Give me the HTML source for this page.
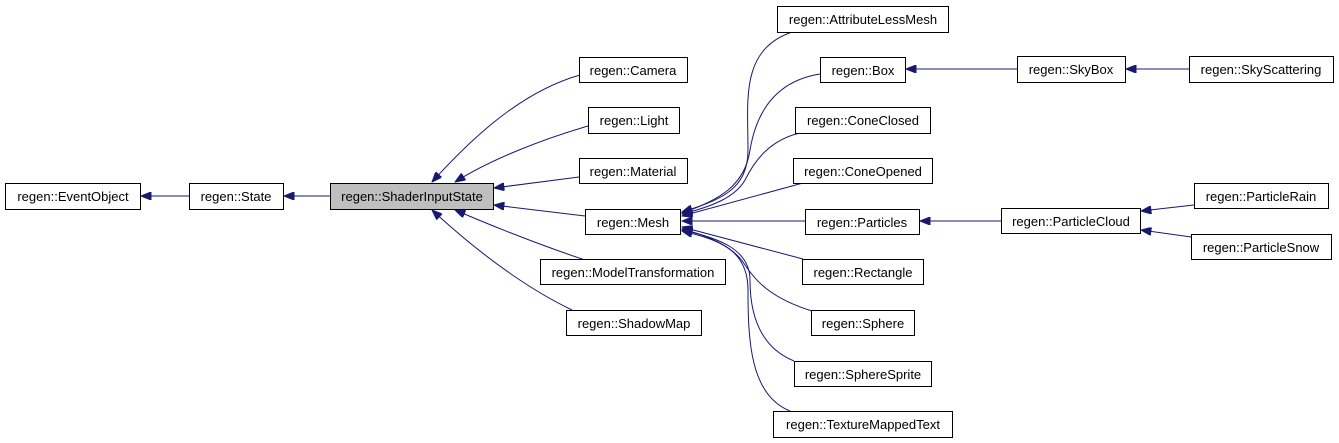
<!DOCTYPE html>
<html><head><meta charset="utf-8"><style>
html,body{margin:0;padding:0;background:#fff;}
svg{display:block;}
text{font-family:"Liberation Sans",sans-serif;font-size:13px;fill:#000;text-anchor:middle;}
rect{stroke:#000;stroke-width:1;fill:#fff;}
path{stroke:#191970;stroke-width:1;fill:none;}
</style></head><body>
<svg width="1339" height="443" viewBox="0 0 1339 443">
<defs>
<marker id="a" viewBox="0 0 10 8" refX="10" refY="4" markerWidth="11" markerHeight="8" markerUnits="userSpaceOnUse" orient="auto">
<polygon points="0,0 10,4 0,8" fill="#191970" stroke="#191970"/>
</marker>
</defs>
<path d="M189,196 L141,196" marker-end="url(#a)"/>
<path d="M330,196 L284,196" marker-end="url(#a)"/>
<path d="M580,75 C520,92 470,140 432,182" marker-end="url(#a)"/>
<path d="M588,126 C540,140 490,160 455,182" marker-end="url(#a)"/>
<path d="M579,177 L494,188" marker-end="url(#a)"/>
<path d="M585,216 L494,205" marker-end="url(#a)"/>
<path d="M585,260 C540,245 490,225 455,210" marker-end="url(#a)"/>
<path d="M572,310 C520,285 470,245 432,210" marker-end="url(#a)"/>
<path d="M792,32 C740,50 748,100 748,150 C748,190 720,200 682,212" marker-end="url(#a)"/>
<path d="M820,74 C770,82 755,120 750,150 C745,185 720,200 682,213" marker-end="url(#a)"/>
<path d="M800,133 C770,140 755,160 745,180 C735,198 710,207 682,214" marker-end="url(#a)"/>
<path d="M803,183 L682,216" marker-end="url(#a)"/>
<path d="M805,221 L682,221" marker-end="url(#a)"/>
<path d="M803,259 L682,227" marker-end="url(#a)"/>
<path d="M812,311 C770,298 755,280 745,265 C735,248 710,236 682,229" marker-end="url(#a)"/>
<path d="M794,361 C755,345 750,305 750,280 C750,250 720,238 682,230" marker-end="url(#a)"/>
<path d="M790,411 C750,395 748,340 748,290 C748,250 720,240 682,231" marker-end="url(#a)"/>
<path d="M1017,69 L906,69" marker-end="url(#a)"/>
<path d="M1189,69 L1126,69" marker-end="url(#a)"/>
<path d="M1001,221 L920,221" marker-end="url(#a)"/>
<path d="M1194,205 L1141,211" marker-end="url(#a)"/>
<path d="M1191,237 L1141,230" marker-end="url(#a)"/>
<rect x="5.5" y="183.5" width="135" height="26"/><text x="73" y="201">regen::EventObject</text>
<rect x="189.5" y="183.5" width="94" height="26"/><text x="236" y="201">regen::State</text>
<rect x="330.5" y="183.5" width="163" height="26" style="fill:#bfbfbf"/><text x="412" y="201">regen::ShaderInputState</text>
<rect x="579.5" y="57.5" width="108" height="25"/><text x="633" y="75">regen::Camera</text>
<rect x="588.5" y="107.5" width="91" height="26"/><text x="634" y="125">regen::Light</text>
<rect x="579.5" y="158.5" width="108" height="25"/><text x="633" y="176">regen::Material</text>
<rect x="585.5" y="209.5" width="95" height="25"/><text x="633" y="227">regen::Mesh</text>
<rect x="540.5" y="259.5" width="185" height="25"/><text x="633" y="277">regen::ModelTransformation</text>
<rect x="566.5" y="310.5" width="135" height="25"/><text x="634" y="328">regen::ShadowMap</text>
<rect x="777.5" y="6.5" width="171" height="26"/><text x="863" y="24">regen::AttributeLessMesh</text>
<rect x="820.5" y="57.5" width="85" height="25"/><text x="863" y="75">regen::Box</text>
<rect x="795.5" y="107.5" width="135" height="26"/><text x="863" y="125">regen::ConeClosed</text>
<rect x="793.5" y="158.5" width="139" height="25"/><text x="863" y="176">regen::ConeOpened</text>
<rect x="805.5" y="209.5" width="114" height="25"/><text x="862" y="227">regen::Particles</text>
<rect x="802.5" y="259.5" width="121" height="25"/><text x="863" y="277">regen::Rectangle</text>
<rect x="811.5" y="310.5" width="103" height="25"/><text x="863" y="328">regen::Sphere</text>
<rect x="794.5" y="361.5" width="137" height="25"/><text x="863" y="379">regen::SphereSprite</text>
<rect x="773.5" y="411.5" width="179" height="26"/><text x="863" y="429">regen::TextureMappedText</text>
<rect x="1017.5" y="56.5" width="108" height="26"/><text x="1071" y="74">regen::SkyBox</text>
<rect x="1189.5" y="56.5" width="144" height="26"/><text x="1261" y="74">regen::SkyScattering</text>
<rect x="1001.5" y="208.5" width="139" height="25"/><text x="1071" y="226">regen::ParticleCloud</text>
<rect x="1194.5" y="183.5" width="134" height="25"/><text x="1261" y="201">regen::ParticleRain</text>
<rect x="1191.5" y="234.5" width="140" height="25"/><text x="1261" y="252">regen::ParticleSnow</text>
</svg>
</body></html>
